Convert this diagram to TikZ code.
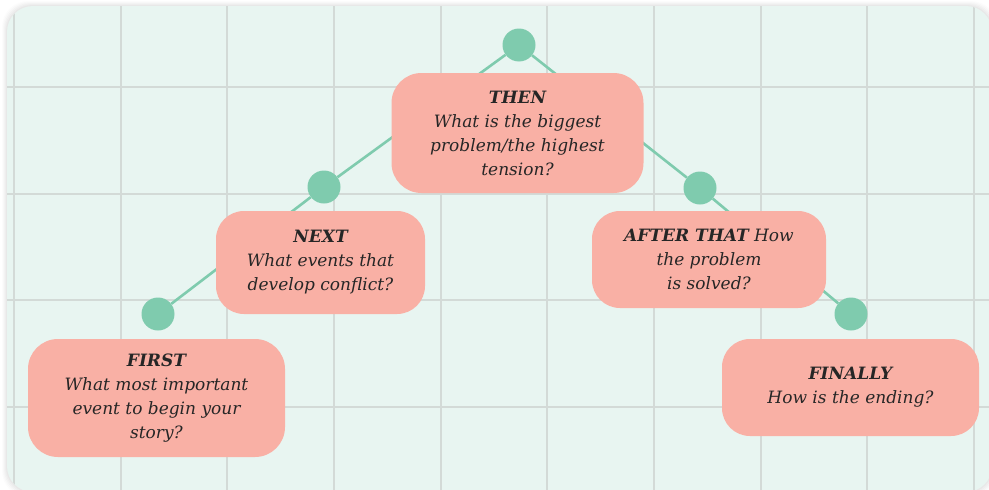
\documentclass[tikz,border=0pt]{standalone}
\usepackage{fontspec}
\setmainfont{DejaVu Serif}
\definecolor{panelc}{HTML}{E8F5F1}
\definecolor{gridc}{HTML}{D3DAD7}
\definecolor{dotc}{HTML}{7FCBAE}
\definecolor{boxc}{HTML}{F9B0A5}
\definecolor{txtc}{HTML}{262626}
\tikzset{
  dotnode/.style={circle, fill=dotc, inner sep=0pt, minimum size=33pt},
  conn/.style={draw=dotc, line width=2.6pt},
  stepbox/.style={rounded corners=28pt, fill=boxc, inner sep=0pt, align=center,
    text=txtc, font=\fontsize{17}{24}\selectfont\itshape},
  gridline/.style={draw=gridc, line width=2pt}
}
\begin{document}
\begin{tikzpicture}[x=1pt,y=-1pt]
\useasboundingbox (0,0) rectangle (989,490);
\fill[white] (0,0) rectangle (989,490);
% shadow
\foreach \d/\o in {5/0.012,4/0.015,3/0.018,2/0.02,1/0.025}{
  \fill[black,opacity=\o,rounded corners=26pt] (7-\d,6-\d) rectangle (992+\d,492+\d);
}
\fill[panelc,rounded corners=26pt] (7,6) rectangle (992,492);
\begin{scope}
\clip[rounded corners=26pt] (7,6) rectangle (992,492);
\foreach \k in {0,...,9}{
  \draw[gridline] ({14+106.67*\k},0) -- ({14+106.67*\k},495);
}
\foreach \k in {0,...,3}{
  \draw[gridline] (0,{87+106.67*\k}) -- (995,{87+106.67*\k});
}
\end{scope}
% dots
\node[dotnode] (d0) at (519,45) {};
\node[dotnode] (d1) at (324,187) {};
\node[dotnode] (d2) at (158,314) {};
\node[dotnode] (d3) at (700,188) {};
\node[dotnode] (d4) at (851,314) {};
\draw[conn] (d0) -- (d1);
\draw[conn] (d1) -- (d2);
\draw[conn] (d0) -- (d3);
\draw[conn] (d3) -- (d4);
% boxes
\node[stepbox, minimum width=252pt, minimum height=120pt, rounded corners=30pt] (then) at (517.5,133)
  {\textbf{THEN}\\What is the biggest\\problem/the highest\\tension?};
\node[stepbox, minimum width=209pt, minimum height=103pt] (next) at (320.5,262.5)
  {\textbf{NEXT}\\What events that\\develop conflict?};
\node[stepbox, minimum width=257pt, minimum height=118pt, rounded corners=30pt] (first) at (156.5,398)
  {\textbf{FIRST}\\What most important\\event to begin your\\story?};
\node[stepbox, minimum width=234pt, minimum height=97pt] (after) at (709,259.5)
  {\textbf{AFTER THAT} How\\the problem\\is solved?};
\node[stepbox, minimum width=257pt, minimum height=97pt] (final) at (850.5,387.5)
  {\textbf{FINALLY}\\How is the ending?};
\end{tikzpicture}
\end{document}
